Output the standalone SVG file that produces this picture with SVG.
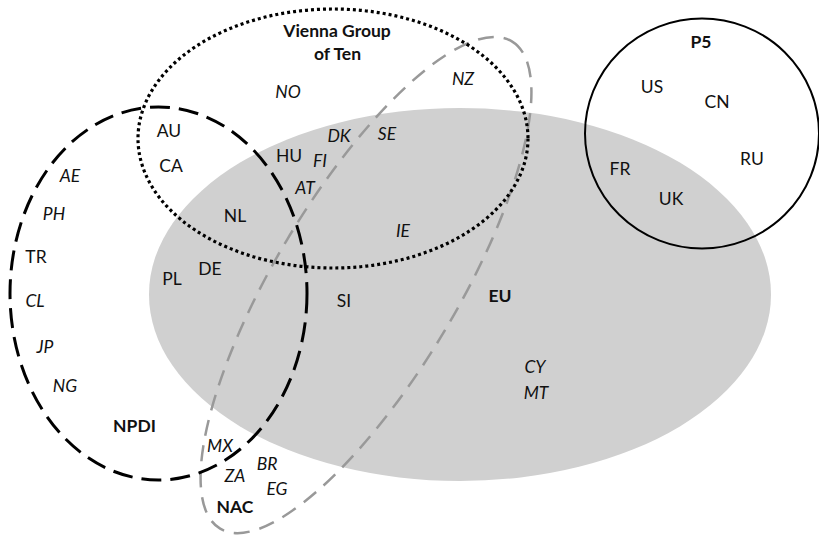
<svg xmlns="http://www.w3.org/2000/svg" width="819" height="536" viewBox="0 0 819 536">
<style>
text{font-family:Lato,"Liberation Sans",sans-serif;font-size:17.5px;fill:#111;text-anchor:middle}
.i{font-style:italic}
.b{font-weight:bold}
.set{fill:none}
</style>
<rect width="819" height="536" fill="#fff"/>
<g id="EU">
<ellipse cx="460" cy="294.5" rx="311" ry="186.5" fill="#d0d0d0"/>
</g>
<g id="NAC">
<ellipse class="set" cx="366" cy="285" rx="284" ry="91" transform="rotate(-59.1 366 285)" stroke="#999" stroke-width="2.5" stroke-dasharray="16 10"/>
</g>
<g id="NPDI">
<ellipse class="set" cx="158.5" cy="293.5" rx="148.5" ry="186.5" stroke="#000" stroke-width="3" stroke-dasharray="20 9"/>
</g>
<g id="Vienna">
<ellipse class="set" cx="333" cy="138.5" rx="195" ry="129.5" stroke="#000" stroke-width="3.2" stroke-dasharray="3 3"/>
</g>
<g id="P5">
<ellipse class="set" cx="702" cy="133.5" rx="117" ry="115" stroke="#000" stroke-width="2"/>
</g>
<g id="labels">
<text class="b" x="337" y="37">Vienna Group</text>
<text class="b" x="337.5" y="60">of Ten</text>
<text class="i" x="288" y="98">NO</text>
<text class="i" x="463" y="85">NZ</text>
<text x="169" y="137">AU</text>
<text x="171" y="172">CA</text>
<text class="i" x="70" y="182">AE</text>
<text class="i" x="54" y="220">PH</text>
<text x="36" y="263">TR</text>
<text x="289" y="162">HU</text>
<text class="i" x="320" y="167">FI</text>
<text class="i" x="339" y="142">DK</text>
<text class="i" x="387" y="140">SE</text>
<text class="i" x="305" y="194">AT</text>
<text x="235" y="222">NL</text>
<text class="i" x="403" y="237">IE</text>
<text x="210" y="275">DE</text>
<text x="172" y="285">PL</text>
<text x="344" y="307">SI</text>
<text class="i" x="35" y="307">CL</text>
<text class="i" x="45" y="353">JP</text>
<text class="i" x="65" y="392">NG</text>
<text class="b" x="134.5" y="432">NPDI</text>
<text class="i" x="220" y="452">MX</text>
<text class="i" x="235" y="482">ZA</text>
<text class="i" x="267" y="470">BR</text>
<text class="i" x="277" y="495">EG</text>
<text class="b" x="235" y="513">NAC</text>
<text class="b" x="500" y="302">EU</text>
<text class="i" x="535" y="373">CY</text>
<text class="i" x="536" y="399">MT</text>
<text class="b" x="701" y="48">P5</text>
<text x="652" y="93">US</text>
<text x="717" y="108">CN</text>
<text x="752" y="165">RU</text>
<text x="620" y="175">FR</text>
<text x="671" y="205">UK</text>
</g>
</svg>
